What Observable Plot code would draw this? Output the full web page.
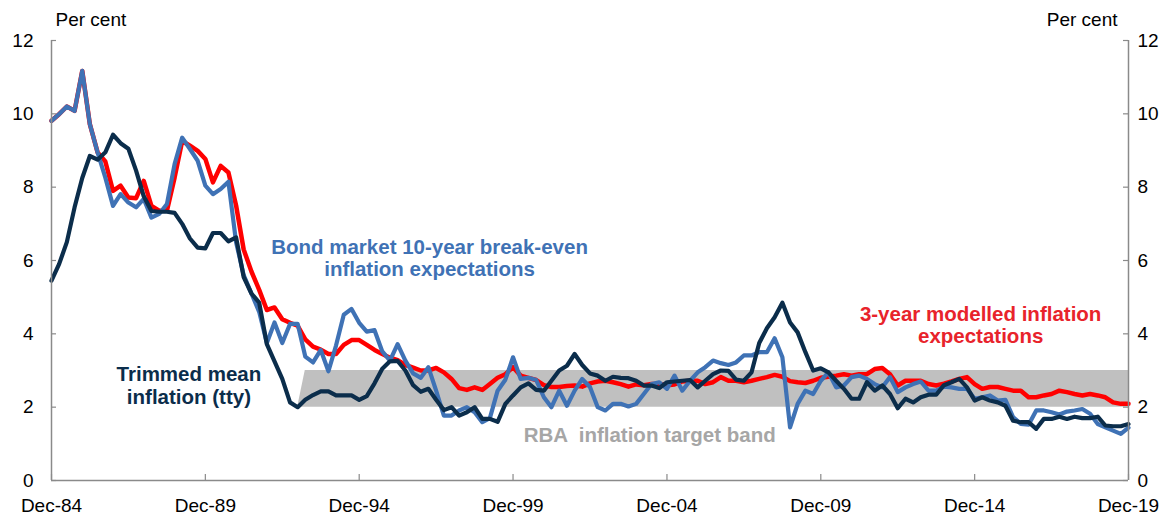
<!DOCTYPE html>
<html>
<head>
<meta charset="utf-8">
<script src="https://cdn.jsdelivr.net/npm/d3@7"></script>
<script src="https://cdn.jsdelivr.net/npm/@observablehq/plot@0.6"></script>
<style>
  html, body { margin: 0; padding: 0; background: #fff; }
  svg { display: block; }
</style>
</head>
<body>
<div id="chart"></div>
<script>
// Quarterly observations, Dec-84 to Dec-19 (141 quarters)
const firstQuarter = "1984-12-01";
const quarterCount = 141;

// Trimmed mean inflation (tty), per cent
const trimmedMean = [
  5.45, 5.9, 6.5, 7.45, 8.25, 8.85, 8.75, 8.95, 9.43, 9.2,
  9.05, 8.45, 7.75, 7.35, 7.33, 7.33, 7.3, 7.0, 6.6, 6.35,
  6.33, 6.75, 6.75, 6.52, 6.63, 5.55, 5.1, 4.85, 3.72, 3.25,
  2.77, 2.13, 2.0, 2.2, 2.33, 2.43, 2.43, 2.32, 2.32, 2.32,
  2.2, 2.3, 2.65, 3.05, 3.25, 3.26, 3.0, 2.6, 2.42, 2.5,
  2.2, 1.92, 2.0, 1.77, 1.86, 2.0, 1.68, 1.68, 1.6, 2.09,
  2.32, 2.54, 2.65, 2.47, 2.45, 2.72, 3.0, 3.13, 3.45, 3.15,
  2.92, 2.86, 2.72, 2.83, 2.8, 2.79, 2.72, 2.59, 2.59, 2.52,
  2.68, 2.7, 2.72, 2.74, 2.54, 2.72, 2.9, 3.0, 2.99, 2.75,
  2.72, 2.95, 3.75, 4.15, 4.45, 4.85, 4.31, 4.04, 3.5, 3.0,
  3.06, 2.95, 2.72, 2.5, 2.23, 2.23, 2.68, 2.45, 2.59, 2.36,
  1.97, 2.23, 2.13, 2.27, 2.34, 2.34, 2.6, 2.68, 2.77, 2.54,
  2.18, 2.27, 2.18, 2.13, 2.04, 1.63, 1.59, 1.59, 1.41, 1.68,
  1.68, 1.74, 1.68, 1.74, 1.7, 1.7, 1.74, 1.5, 1.48, 1.48,
  1.54
];

// Bond market 10-year break-even inflation expectations, per cent
const bondBreakeven = [
  9.81, 9.99, 10.2, 10.08, 11.17, 9.72, 8.95, 8.26, 7.49, 7.81,
  7.58, 7.45, 7.68, 7.17, 7.27, 7.54, 8.63, 9.35, 9.04, 8.72,
  8.04, 7.81, 7.95, 8.15, 6.5, 5.6, 5.1, 4.6, 3.75, 4.31,
  3.75, 4.27, 4.27, 3.38, 3.22, 3.56, 2.98, 3.68, 4.52, 4.68,
  4.3, 4.06, 4.1, 3.52, 3.27, 3.72, 3.27, 2.92, 2.8, 3.09,
  2.45, 1.77, 1.77, 1.91, 2.0, 1.86, 1.59, 1.7, 2.45, 2.75,
  3.36, 2.77, 2.8, 2.74, 2.27, 2.0, 2.45, 2.04, 2.45, 2.77,
  2.55, 2.0, 1.91, 2.09, 2.09, 2.02, 2.09, 2.36, 2.63, 2.68,
  2.5, 2.86, 2.45, 2.72, 2.95, 3.09, 3.27, 3.2, 3.15, 3.22,
  3.41, 3.41, 3.5, 3.5, 3.88, 3.36, 1.45, 2.09, 2.45, 2.36,
  2.72, 2.95, 2.54, 2.59, 2.82, 2.86, 2.77, 2.63, 2.54, 2.82,
  2.41, 2.54, 2.63, 2.7, 2.45, 2.45, 2.56, 2.54, 2.5, 2.5,
  2.23, 2.27, 2.32, 2.18, 2.2, 1.73, 1.54, 1.52, 1.91, 1.91,
  1.86, 1.8, 1.88, 1.91, 1.95, 1.82, 1.54, 1.45, 1.36, 1.27,
  1.44
];

// 3-year modelled inflation expectations, per cent
const modelled3yr = [
  9.81, 9.99, 10.2, 10.08, 11.17, 9.72, 8.95, 8.7, 7.9, 8.04,
  7.72, 7.7, 8.17, 7.49, 7.36, 7.36, 8.26, 9.26, 9.13, 8.99,
  8.77, 8.13, 8.58, 8.4, 7.5, 6.3, 5.7, 5.2, 4.65, 4.72,
  4.4, 4.3, 4.22, 3.85, 3.65, 3.57, 3.45, 3.45, 3.7, 3.83,
  3.83, 3.7, 3.56, 3.45, 3.35, 3.28, 3.15, 3.08, 3.0, 3.0,
  3.07, 2.95, 2.77, 2.52, 2.47, 2.54, 2.47, 2.63, 2.8, 2.9,
  3.09, 2.86, 2.8, 2.74, 2.6, 2.55, 2.55, 2.58, 2.59, 2.56,
  2.65, 2.7, 2.72, 2.68, 2.63, 2.56, 2.62, 2.6, 2.63, 2.63,
  2.6, 2.62, 2.7, 2.72, 2.72, 2.63, 2.68, 2.82, 2.72, 2.72,
  2.68, 2.72, 2.77, 2.82, 2.88, 2.83, 2.71, 2.68, 2.66, 2.72,
  2.8, 2.83, 2.86, 2.9, 2.86, 2.9, 2.9, 3.04, 3.07, 2.9,
  2.59, 2.72, 2.72, 2.72, 2.63, 2.59, 2.64, 2.7, 2.77, 2.82,
  2.63, 2.5, 2.55, 2.55, 2.5, 2.45, 2.45, 2.27, 2.27, 2.32,
  2.36, 2.45, 2.41, 2.36, 2.32, 2.36, 2.32, 2.27, 2.13, 2.09,
  2.09
];

// RBA inflation target band
const bandLow = 2;
const bandHigh = 3;
const bandFrom = "1993-03-01";
const bandTo = "2019-12-01";

// Axis ticks
const yTicks = [0, 2, 4, 6, 8, 10, 12];
const xTickLabels = ["Dec-84", "Dec-89", "Dec-94", "Dec-99", "Dec-04", "Dec-09", "Dec-14", "Dec-19"];

// ---- build tables ----
const parseQ = d3.utcParse("%b-%y");
const start = new Date(firstQuarter + "T00:00:00Z");
const dates = d3.range(quarterCount).map(i => d3.utcMonth.offset(start, 3 * i));
const end = dates[dates.length - 1];
const rows = dates.map((date, i) => ({
  date, trimmed: trimmedMean[i], bond: bondBreakeven[i], model: modelled3yr[i]
}));
const bStart = new Date(bandFrom + "T00:00:00Z");
const band = [
  {date: d3.utcMonth.offset(bStart, -3), lo: bandLow, hi: bandLow},
  {date: bStart, lo: bandLow, hi: bandHigh},
  {date: new Date(bandTo + "T00:00:00Z"), lo: bandLow, hi: bandHigh}
];
const xTicks = xTickLabels.map(s => parseQ(s));

const labels = [
  {date: "1997-03-15", y: 6.08, text: "Bond market 10-year break-even\ninflation expectations", color: "#3F72B5"},
  {date: "1989-05-20", y: 2.6, text: "Trimmed mean\ninflation (tty)", color: "#0B2D4B"},
  {date: "2015-02-10", y: 4.25, text: "3-year modelled inflation\nexpectations", color: "#E8232B"},
  {date: "2004-05-10", y: 1.25, text: "RBA  inflation target band", color: "#A6A6A6"}
].map(d => ({...d, date: new Date(d.date + "T00:00:00Z")}));

const innerW = 1175 - 51 - 47;
const innerH = 517 - 40 - 37;
const axisColor = "#8A8A8A";

const chart = Plot.plot({
  width: 1175,
  height: 517,
  marginLeft: 51,
  marginRight: 47,
  marginTop: 40,
  marginBottom: 37,
  style: {fontFamily: "'Liberation Sans', Arial, sans-serif", fontSize: "19px", color: "#000", background: "#fff", overflow: "visible"},
  x: {type: "utc", domain: [start, end]},
  y: {domain: [0, 12]},
  marks: [
    Plot.areaY(band, {x: "date", y1: "lo", y2: "hi", fill: "#C0C0C0", curve: "linear"}),
    Plot.lineY(rows, {x: "date", y: "model", stroke: "#FF0000", strokeWidth: 4.5, strokeLinejoin: "round"}),
    Plot.lineY(rows, {x: "date", y: "bond", stroke: "#3F72B5", strokeWidth: 4.2, strokeLinejoin: "round"}),
    Plot.lineY(rows, {x: "date", y: "trimmed", stroke: "#0B2D4B", strokeWidth: 4.2, strokeLinejoin: "round"}),
    Plot.ruleX([start], {stroke: axisColor, strokeWidth: 1.5}),
    Plot.ruleX([end], {stroke: axisColor, strokeWidth: 1.5}),
    Plot.ruleY([0], {stroke: axisColor, strokeWidth: 1.5}),
    Plot.tickY(yTicks, {y: d => d, insetRight: innerW - 5, stroke: axisColor, strokeWidth: 1.2}),
    Plot.tickY(yTicks, {y: d => d, insetLeft: innerW - 5, stroke: axisColor, strokeWidth: 1.2}),
    Plot.tickX(xTicks, {x: d => d, insetTop: innerH - 6, stroke: axisColor, strokeWidth: 1.2}),
    Plot.axisY({anchor: "left", ticks: yTicks, tickSize: 0, tickPadding: 18, label: null, tickFormat: d => d}),
    Plot.axisY({anchor: "right", ticks: yTicks, tickSize: 0, tickPadding: 9, label: null, tickFormat: d => d}),
    Plot.axisX({ticks: xTicks, tickSize: 0, tickPadding: 18, label: null, tickFormat: d3.utcFormat("%b-%y")}),
    Plot.text(["Per cent"], {frameAnchor: "top-left", textAnchor: "start", lineAnchor: "middle", dx: 4, dy: -21, fontSize: 19, fill: "#000"}),
    Plot.text(["Per cent"], {frameAnchor: "top-right", textAnchor: "end", lineAnchor: "middle", dx: -11, dy: -21, fontSize: 19, fill: "#000"}),
    Plot.text(labels, {x: "date", y: "y", text: "text", fill: "color", fontSize: 20.5, fontWeight: "bold", lineHeight: 1.1, lineAnchor: "middle", textAnchor: "middle"})
  ]
});
document.getElementById("chart").appendChild(chart);
</script>
</body>
</html>
